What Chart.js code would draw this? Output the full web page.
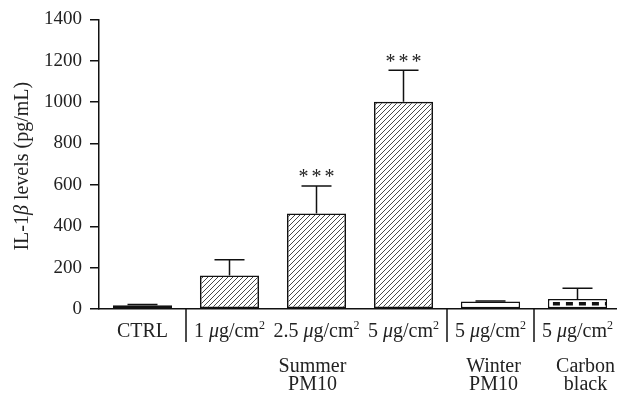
<!DOCTYPE html>
<html>
<head>
<meta charset="utf-8">
<script src="https://cdn.jsdelivr.net/npm/chart.js@4.4.0/dist/chart.umd.min.js"></script>
<style>
  html, body { margin: 0; padding: 0; background: #fff; overflow: hidden; }
  #wrap { width: 621px; height: 395px; }
</style>
</head>
<body>
<div id="wrap"><canvas id="chart" width="621" height="395"></canvas></div>
<script>
// values
const categories = ["CTRL", "1", "2.5", "5", "5w", "5c"];
const doseLabels = ["", "1", "2.5", "5", "5", "5"];
const meanValues = [18, 162, 462, 1002, 36, 48];
const errorValues = [4, 76, 133, 152, 3, 52];
const stars = ["", "", "***", "***", "", ""];
const yTicks = [0, 200, 400, 600, 800, 1000, 1200, 1400];
const groups = [
  { from: 1, to: 3, dx: -4, lines: ["Summer", "PM10"] },
  { from: 4, to: 4, dx: 3, lines: ["Winter", "PM10"] },
  { from: 5, to: 5, dx: 8, lines: ["Carbon", "black"] },
];
const separators = [0.5, 3.5, 4.5];

const FONT = "'Liberation Serif', 'DejaVu Serif', serif";
const ctx = document.getElementById("chart").getContext("2d");

function hatch() {
  const c = document.createElement("canvas");
  c.width = 5; c.height = 5;
  const g = c.getContext("2d");
  g.strokeStyle = "#333";
  g.lineWidth = 0.9;
  g.beginPath();
  g.moveTo(0, 5); g.lineTo(5, 0);
  g.moveTo(-1, 1); g.lineTo(1, -1);
  g.moveTo(4, 6); g.lineTo(6, 4);
  g.stroke();
  return ctx.createPattern(c, "repeat");
}
const pat = hatch();

// draw text runs: [text, style] where style is "n", "i" or "sup"
function drawRuns(g, runs, cx, y, size) {
  const fontOf = (s) => (s === "i" ? "italic " : "") + (s === "sup" ? Math.round(size * 0.62) : size) + "px " + FONT;
  let w = 0;
  runs.forEach(([t, s]) => { g.font = fontOf(s); w += g.measureText(t).width; });
  let x = cx - w / 2;
  g.textAlign = "left";
  g.textBaseline = "alphabetic";
  runs.forEach(([t, s]) => {
    g.font = fontOf(s);
    g.fillText(t, x, s === "sup" ? y - size * 0.42 : y);
    x += g.measureText(t).width;
  });
}

const extras = {
  id: "extras",
  afterDatasetsDraw(chart) {
    const g = chart.ctx;
    const meta = chart.getDatasetMeta(0);
    const y = chart.scales.y;
    g.save();
    g.strokeStyle = "#111";
    g.lineWidth = 1.5;
    meta.data.forEach((bar, i) => {
      const top = y.getPixelForValue(meanValues[i] + errorValues[i]);
      g.beginPath();
      g.moveTo(bar.x, bar.y);
      g.lineTo(bar.x, top);
      g.moveTo(bar.x - 15, top);
      g.lineTo(bar.x + 15, top);
      g.stroke();
      if (stars[i]) {
        g.fillStyle = "#222";
        g.font = "20px " + FONT;
        g.textAlign = "center";
        g.textBaseline = "middle";
        [-13, 0, 13].forEach((dx) => g.fillText("*", bar.x + dx, top - 8));
      }
    });
    // dashed line inside carbon black bar
    const cb = meta.data[5];
    g.setLineDash([7, 6]);
    g.lineWidth = 3.5;
    g.beginPath();
    const my = (cb.y + cb.base) / 2;
    g.moveTo(cb.x - cb.width / 2 + 5, my);
    g.lineTo(cb.x + cb.width / 2 - 1, my);
    g.stroke();
    g.restore();
  },
  afterDraw(chart) {
    const g = chart.ctx;
    const x = chart.scales.x;
    const base = chart.chartArea.bottom;
    g.save();
    g.fillStyle = "#222";
    g.strokeStyle = "#111";
    g.lineWidth = 1.5;
    separators.forEach((s) => {
      const px = x.getPixelForValue(s);
      g.beginPath();
      g.moveTo(px, base);
      g.lineTo(px, base + 33);
      g.stroke();
    });
    doseLabels.forEach((d, i) => {
      const cx = x.getPixelForValue(i);
      if (!d) {
        drawRuns(g, [[categories[i], "n"]], cx, base + 28, 20);
      } else {
        drawRuns(g, [[d + " ", "n"], ["\u03bc", "i"], ["g/cm", "n"], ["2", "sup"]], cx, base + 28, 20);
      }
    });
    groups.forEach((gr) => {
      const cx = (x.getPixelForValue(gr.from) + x.getPixelForValue(gr.to)) / 2 + gr.dx;
      gr.lines.forEach((t, k) => drawRuns(g, [[t, "n"]], cx, base + 63 + k * 18, 20));
    });
    // y axis title
    g.translate(22, (chart.chartArea.top + chart.chartArea.bottom) / 2 + 2);
    g.rotate(-Math.PI / 2);
    drawRuns(g, [["IL-1", "n"], ["\u03b2", "i"], [" levels (pg/mL)", "n"]], 0, 6, 20);
    g.restore();
  },
};

new Chart(ctx, {
  type: "bar",
  data: {
    labels: categories,
    datasets: [{
      data: meanValues,
      backgroundColor: ["#111", pat, pat, pat, "#fff", "#fff"],
      borderColor: "#111",
      borderWidth: 1.5,
      borderSkipped: false,
      barPercentage: 0.68,
      categoryPercentage: 1,
    }],
  },
  options: {
    responsive: false,
    animation: false,
    events: [],
    layout: { padding: { top: 12, right: 0, left: 0, bottom: 0 } },
    plugins: { legend: { display: false }, tooltip: { enabled: false } },
    scales: {
      x: {
        grid: { display: false },
        border: { display: true, color: "#111", width: 1.5 },
        ticks: { display: false },
        afterFit: (s) => { s.height = 86; },
      },
      y: {
        min: 0,
        max: 1400,
        afterBuildTicks: (s) => { s.ticks = yTicks.map((v) => ({ value: v })); },
        grid: { display: true, drawOnChartArea: false, tickLength: 9, color: "#111", lineWidth: 1.5 },
        border: { display: true, color: "#111", width: 1.5 },
        ticks: { color: "#222", padding: 8, font: { family: FONT, size: 19 }, callback: (v) => String(v) },
        afterFit: (s) => { s.width = 99; },
      },
    },
  },
  plugins: [extras],
});
</script>
</body>
</html>
